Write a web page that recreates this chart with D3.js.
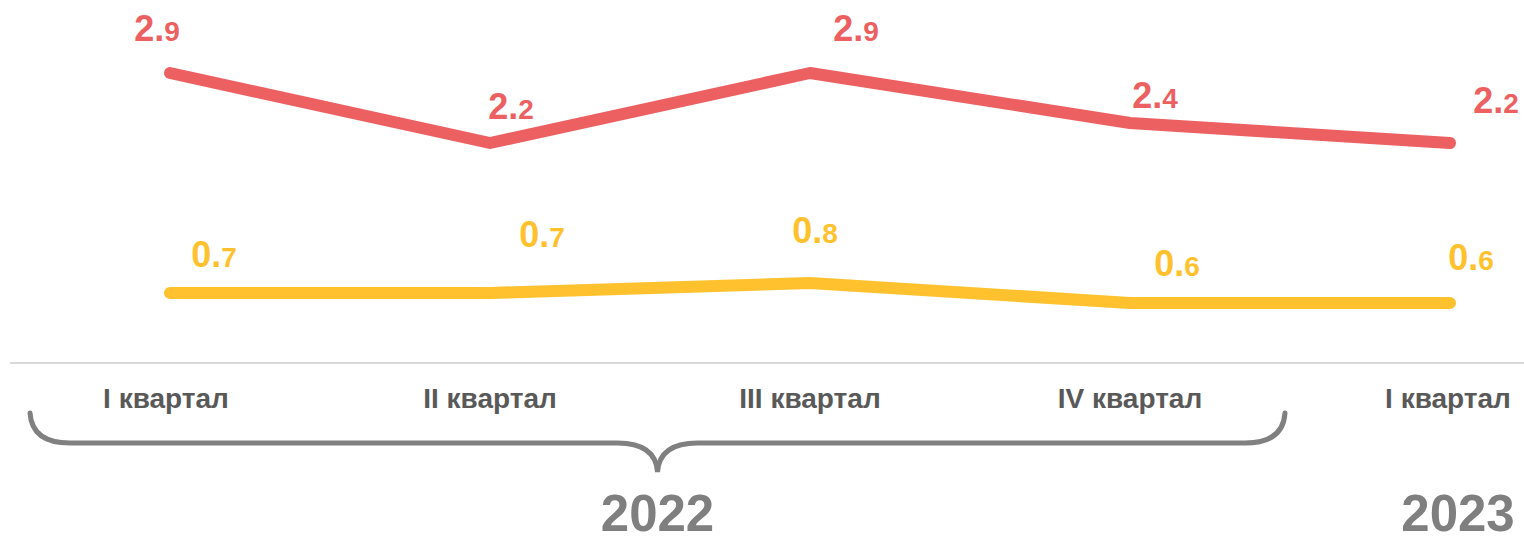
<!DOCTYPE html>
<html>
<head>
<meta charset="utf-8">
<script src="https://cdn.jsdelivr.net/npm/d3@7"></script>
<style>
  body { margin: 0; background: #fff; }
  svg { display: block; font-family: "Liberation Sans", Arial, sans-serif; }
</style>
</head>
<body>
<svg width="1524" height="540"></svg>
<script>
var categories = ['I квартал', 'II квартал', 'III квартал', 'IV квартал', 'I квартал'];
var redValues = [2.9, 2.2, 2.9, 2.4, 2.2];
var yellowValues = [0.7, 0.7, 0.8, 0.6, 0.6];
var years = ['2022', '2023'];

// label nudges (dx, dy) relative to the point
var redLabelShift = [[-13, -32], [21, -24], [46, -32], [25, -15], [46, -30]];
var yellowLabelShift = [[44, -26], [52, -46], [5, -40], [47, -27], [21, -33]];

var svg = d3.select('svg');
var x = d3.scalePoint().domain(d3.range(categories.length)).range([170, 1450]);
var y = d3.scaleLinear().domain([0, 3]).range([363, 63]);

// baseline
svg.append('line')
   .attr('x1', 10).attr('x2', 1524)
   .attr('y1', y(0)).attr('y2', y(0))
   .attr('stroke', '#d9d9d9').attr('stroke-width', 2);

var line = d3.line().x(function(d, i) { return x(i); }).y(function(d) { return y(d); });

function drawSeries(values, color, shifts) {
  svg.append('path')
     .datum(values)
     .attr('d', line)
     .attr('fill', 'none')
     .attr('stroke', color)
     .attr('stroke-width', 12)
     .attr('stroke-linecap', 'round')
     .attr('stroke-linejoin', 'round');
  var lbl = svg.append('g').selectAll('text').data(values).enter().append('text')
     .attr('x', function(d, i) { return x(i) + shifts[i][0]; })
     .attr('y', function(d, i) { return y(d) + shifts[i][1]; })
     .attr('text-anchor', 'middle')
     .attr('fill', color)
     .attr('font-weight', 'bold');
  lbl.append('tspan').attr('font-size', '36px').text(function(d) { return d.toFixed(1).split('.')[0] + '.'; });
  lbl.append('tspan').attr('font-size', '28px').text(function(d) { return d.toFixed(1).split('.')[1]; });
}

drawSeries(redValues, '#ec6062', redLabelShift);
drawSeries(yellowValues, '#ffc22e', yellowLabelShift);

// category labels
svg.append('g').selectAll('text').data(categories).enter().append('text')
   .attr('x', function(d, i) { return x(i) - (i === 0 ? 4 : (i === 4 ? 2 : 0)); })
   .attr('y', 408)
   .attr('text-anchor', 'middle')
   .attr('font-size', '28px')
   .attr('font-weight', 'bold')
   .attr('fill', '#595959')
   .text(function(d) { return d; });

// brace under 2022 quarters
var bx0 = x(0) - 140, bx1 = x(3) + 155, mid = (bx0 + bx1) / 2;
var braceTop = 413, braceLine = 443, braceTip = 472;
var p = d3.path();
p.moveTo(bx0, braceTop);
p.quadraticCurveTo(bx0 + 2, braceLine, bx0 + 40, braceLine);
p.lineTo(mid - 40, braceLine);
p.quadraticCurveTo(mid - 2, braceLine, mid, braceTip);
p.quadraticCurveTo(mid + 2, braceLine, mid + 40, braceLine);
p.lineTo(bx1 - 40, braceLine);
p.quadraticCurveTo(bx1 - 2, braceLine, bx1, braceTop);
svg.append('path')
   .attr('d', p.toString())
   .attr('fill', 'none')
   .attr('stroke', '#808080')
   .attr('stroke-width', 5)
   .attr('stroke-linecap', 'round');

// years
svg.append('g').selectAll('text').data(years).enter().append('text')
   .attr('x', function(d, i) { return i === 0 ? mid : x(4) + 8; })
   .attr('y', 531)
   .attr('text-anchor', 'middle')
   .attr('font-size', '51px')
   .attr('font-weight', 'bold')
   .attr('fill', '#7f7f7f')
   .text(function(d) { return d; });
</script>
</body>
</html>
